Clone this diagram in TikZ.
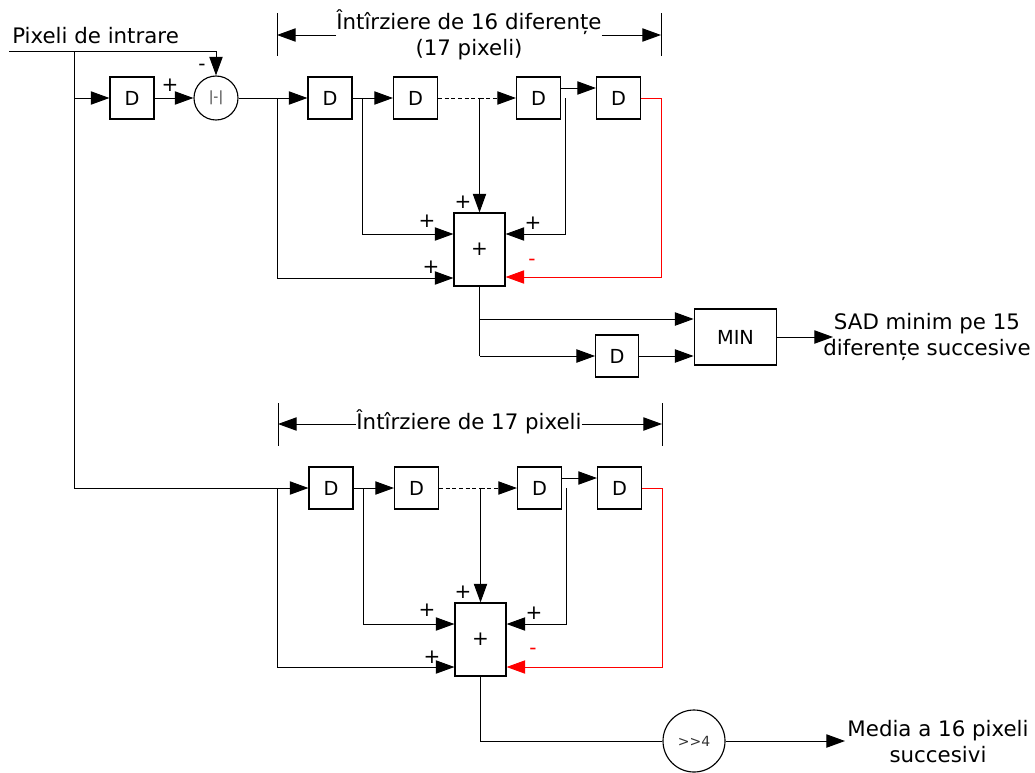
\documentclass[tikz,border=0pt]{standalone}
\usepackage{fontspec}
\setmainfont{DejaVu Sans}
\usetikzlibrary{arrows.meta}
\tikzset{
  wire/.style={line width=.75pt,black},
  arr/.style={wire,-{Triangle[length=14pt,width=10pt]}},
  redwire/.style={line width=.75pt,red},
  redarr/.style={redwire,-{Triangle[length=14pt,width=10pt]}},
  dbox/.style={draw,line width=.85pt,minimum width=33pt,minimum height=31.5pt,inner sep=0pt,font=\fontsize{14.5pt}{16pt}\selectfont},
  sumbox/.style={draw,line width=.85pt,minimum width=38.25pt,minimum height=54.75pt,inner sep=0pt,font=\fontsize{15pt}{17pt}\selectfont},
  circ/.style={draw,circle,line width=.85pt,inner sep=0pt},
  lab/.style={inner sep=0pt,align=center,font=\fontsize{16pt}{19.5pt}\selectfont},
  sgn/.style={inner sep=0pt,font=\fontsize{15pt}{17pt}\selectfont},
  bar/.style={line width=.75pt}
}
\begin{document}
\begin{tikzpicture}[x=.75pt,y=-.75pt]
\useasboundingbox (0,0) rectangle (1035,772);
% input
\node[lab,anchor=west] (inp) at (12,36) {Pixeli de intrare};
\coordinate (instart) at (9,51);
\coordinate (insplit) at (74,51);
\coordinate (incorner) at (216,51);
\coordinate (indown) at (74,488);
\coordinate (inbranch) at (74,98);
\node[dbox] (d0) at (132,98) {D};
\node[circ,minimum size=33pt] (abs) at (216,98) {\fontsize{10.5pt}{12pt}\selectfont\color{black!75}|-|};
\draw[wire] (instart) -- (incorner);
\draw[arr] (incorner) -- (abs.north);
\draw[wire] (insplit) -- (indown);
\draw[arr] (inbranch) -- (d0.west);
\draw[arr] (d0.east) -- (abs.west);
\node[sgn] (p0) at (170,85) {+};
\node[sgn] (m0) at (202,67) {-};
% top row
\node[dbox] (d1) at (330,98) {D};
\node[dbox] (d2) at (415.5,98) {D};
\node[dbox] (d3) at (538.5,98) {D};
\node[dbox] (d4) at (618.5,98) {D};
\node[sumbox] (s1) at (479.5,249.5) {+};
\coordinate (a1) at (277,98);
\coordinate (a1b) at (277,278);
\coordinate (a2) at (362,98);
\coordinate (a2b) at (362,234);
\coordinate (a3) at (479.5,98);
\coordinate (a4) at (565,98);
\coordinate (a4b) at (565,234);
\coordinate (r1) at (661,98);
\coordinate (r1b) at (661,277);
\draw[arr] (abs.east) -- (d1.west);
\draw[arr] (d1.east) -- (d2.west);
\draw[wire,dash pattern=on 3pt off 2pt] (d2.east) -- (a3);
\draw[arr,dash pattern=on 3pt off 2pt] (a3) -- (d3.west);
\draw[arr] ([yshift=7.5pt]d3.east) -- ([yshift=7.5pt]d4.west);
\draw[arr] (a1) -- (a1b) -- (a1b -| s1.west);
\draw[arr] (a2) -- (a2b) -- (a2b -| s1.west);
\draw[arr] (a3) -- (s1.north);
\draw[arr] (a4) -- (a4b) -- (a4b -| s1.east);
\draw[redarr] (d4.east) -- (r1) -- (r1b) -- (r1b -| s1.east);
\node[sgn] (p1) at (463,202) {+};
\node[sgn] (p2) at (427,221) {+};
\node[sgn] (p3) at (533,223) {+};
\node[sgn] (p4) at (431,267) {+};
\node[sgn,text=red] (m1) at (532,262) {-};
% top bracket
\coordinate (bl1) at (277,13); \coordinate (bl2) at (277,56);
\coordinate (br1) at (661,13); \coordinate (br2) at (661,56);
\coordinate (blm) at (277,35); \coordinate (brm) at (661,35);
\draw[bar] (bl1) -- (bl2);
\draw[bar] (br1) -- (br2);
\node[lab] (t1) at (469,34.5) {Întîrziere de 16 diferențe\\(17 pixeli)};
\draw[arr] (t1.west |- blm) -- (blm);
\draw[arr] (t1.east |- brm) -- (brm);
% MIN
\node[dbox,minimum width=62pt,minimum height=42pt] (min) at (735.5,337) {MIN};
\node[dbox,minimum width=32pt] (d5) at (617,356) {D};
\coordinate (o1) at (479.5,319);
\coordinate (o2) at (479.5,356);
\draw[wire] (s1.south) -- (o2);
\draw[arr] (o1) -- (o1 -| min.west);
\draw[arr] (o2) -- (d5.west);
\draw[arr] (d5.east) -- (d5.east -| min.west);
\coordinate (sadin) at (833,337);
\draw[arr] (min.east) -- (sadin);
\node[lab] (sad) at (927,337) {SAD minim pe 15\\diferențe succesive};
% bottom bracket
\coordinate (cl1) at (278,403); \coordinate (cl2) at (278,446);
\coordinate (cr1) at (662,403); \coordinate (cr2) at (662,446);
\coordinate (clm) at (278,424); \coordinate (crm) at (662,424);
\draw[bar] (cl1) -- (cl2);
\draw[bar] (cr1) -- (cr2);
\node[lab] (t2) at (469,422) {Întîrziere de 17 pixeli};
\draw[arr] (t2.west |- clm) -- (clm);
\draw[arr] (t2.east |- crm) -- (crm);
% bottom row
\node[dbox] (e1) at (331,488) {D};
\node[dbox] (e2) at (416.5,488) {D};
\node[dbox] (e3) at (539.5,488) {D};
\node[dbox] (e4) at (619.5,488) {D};
\node[sumbox] (s2) at (480.5,639.5) {+};
\coordinate (f1b) at (277,667);
\coordinate (f1) at (277,488);
\coordinate (f2) at (363,488);
\coordinate (f2b) at (363,624);
\coordinate (f3) at (480.5,488);
\coordinate (f4) at (566,488);
\coordinate (f4b) at (566,624);
\coordinate (r2) at (662,488);
\coordinate (r2b) at (662,667);
\draw[arr] (indown) -- (e1.west);
\draw[arr] (e1.east) -- (e2.west);
\draw[wire,dash pattern=on 3pt off 2pt] (e2.east) -- (f3);
\draw[arr,dash pattern=on 3pt off 2pt] (f3) -- (e3.west);
\draw[arr] ([yshift=7.5pt]e3.east) -- ([yshift=7.5pt]e4.west);
\draw[arr] (f1) -- (f1b) -- (f1b -| s2.west);
\draw[arr] (f2) -- (f2b) -- (f2b -| s2.west);
\draw[arr] (f3) -- (s2.north);
\draw[arr] (f4) -- (f4b) -- (f4b -| s2.east);
\draw[redarr] (e4.east) -- (r2) -- (r2b) -- (r2b -| s2.east);
\node[sgn] (q1) at (463,592) {+};
\node[sgn] (q2) at (427,610) {+};
\node[sgn] (q3) at (534,613) {+};
\node[sgn] (q4) at (432,657) {+};
\node[sgn,text=red] (n1) at (533,651) {-};
% bottom output
\node[circ,minimum size=46.5pt] (shift) at (694,741) {\fontsize{10.5pt}{12pt}\selectfont\color{black!80}{>}{>}4};
\coordinate (g1) at (480.5,741);
\coordinate (g2) at (845,741);
\draw[wire] (s2.south) -- (g1) -- (shift.west);
\draw[arr] (shift.east) -- (g2);
\node[lab] (med) at (938,742) {Media a 16 pixeli\\succesivi};
\end{tikzpicture}
\end{document}
